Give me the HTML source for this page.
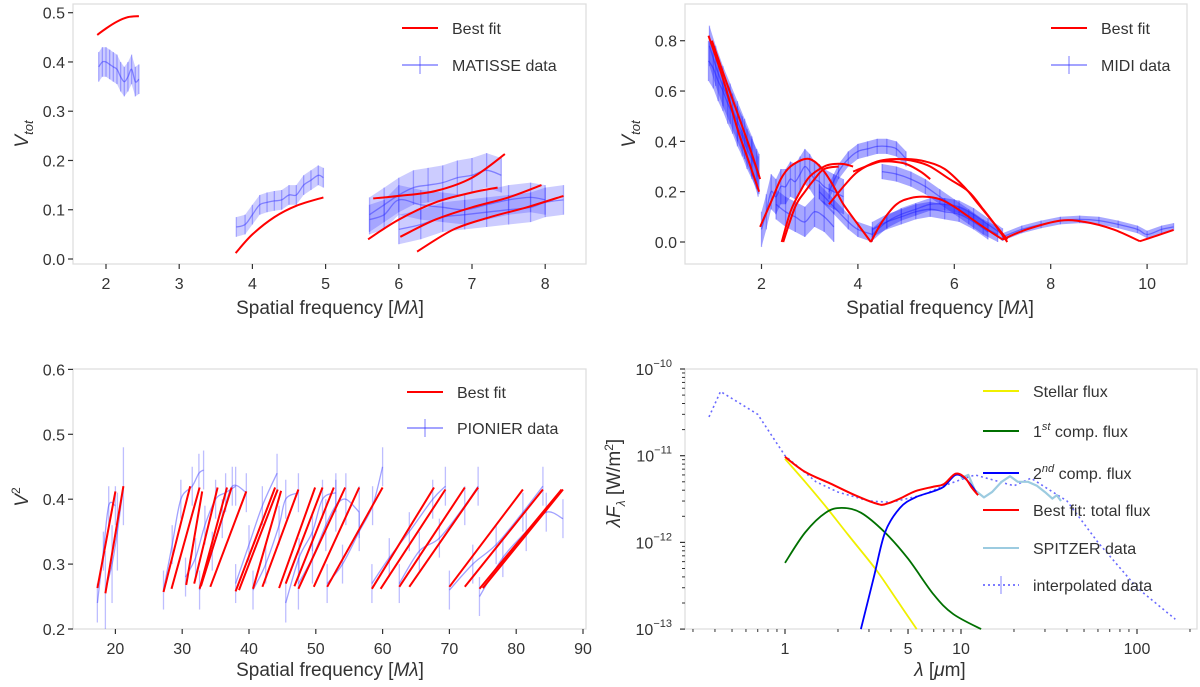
<!DOCTYPE html>
<html><head><meta charset="utf-8">
<style>
body{margin:0;background:#fff;}
svg{display:block;font-family:"Liberation Sans","DejaVu Sans",sans-serif;}
.tk{font-size:16px;fill:#333;}
.tt{font-size:19px;fill:#333;}
.lg{font-size:16px;fill:#333;}
</style></head>
<body>
<svg id="fig" width="1200" height="687" viewBox="0 0 1200 687"></svg>
<script>
// ---------- Panel 1: MATISSE ----------
const p1FitX = [[1.88,2.0,2.15,2.3,2.45],[3.77,4.0,4.3,4.6,4.97],[5.65,6.0,6.5,7.0,7.45],[5.58,6.0,6.5,7.0,7.35],[6.02,6.5,7.0,7.5,7.95],[6.25,6.75,7.25,7.75,8.25]];
const p1FitY = [[0.455,0.468,0.482,0.491,0.493],[0.012,0.05,0.085,0.108,0.125],[0.123,0.128,0.138,0.165,0.213],[0.04,0.08,0.115,0.135,0.145],[0.045,0.08,0.105,0.125,0.15],[0.015,0.06,0.085,0.105,0.128]];
const p1DatX = [[1.9,1.95,2.0,2.05,2.1,2.15,2.2,2.25,2.3,2.35,2.4,2.45],[3.78,3.9,4.0,4.1,4.2,4.3,4.4,4.5,4.6,4.7,4.8,4.9,4.97],[5.6,5.8,6.0,6.2,6.4,6.6,6.8,7.0,7.2,7.4],[5.6,5.8,6.0,6.3,6.6,6.9,7.2,7.5,7.8,8.0],[6.0,6.3,6.6,6.9,7.2,7.5,7.8,8.0,8.25]];
const p1DatY = [[0.39,0.40,0.40,0.395,0.39,0.385,0.37,0.36,0.37,0.385,0.36,0.365],[0.065,0.07,0.09,0.11,0.115,0.118,0.12,0.13,0.13,0.15,0.16,0.17,0.165],[0.09,0.11,0.13,0.145,0.15,0.155,0.165,0.17,0.18,0.17],[0.08,0.09,0.12,0.11,0.105,0.10,0.11,0.12,0.125,0.12],[0.06,0.07,0.085,0.09,0.095,0.10,0.105,0.115,0.12]];
const p1DatE = [0.03,0.02,0.035,0.03,0.03];
const p1XTicks = [2,3,4,5,6,7,8];
const p1YTicks = [0.0,0.1,0.2,0.3,0.4,0.5];

// ---------- Panel 2: MIDI ----------
const p2FitX = [[0.9,1.2,1.5,1.7,1.95],[0.97,1.3,1.6,1.8,1.97],[1.97,2.2,2.4,2.6,2.9,3.1,3.3,3.5,3.7,4.0,4.27],[4.27,4.5,4.8,5.1,5.4,5.7,6.0,6.3,6.6,7.0],[7.0,7.5,8.2,8.7,9.3,9.85],[9.85,10.2,10.55],[2.42,2.6,2.8,3.0,3.3,3.5,3.7,3.9],[2.45,2.7,2.9,3.1,3.3,3.6],[3.4,3.7,4.0,4.4,4.8,5.2,5.5,5.9,6.3,6.6,6.8,7.1],[3.9,4.3,4.6,5.0,5.4,5.8,6.2,6.5,6.8,7.1],[4.4,4.7,5.0,5.3,5.5]];
const p2FitY = [[0.82,0.65,0.45,0.34,0.2],[0.8,0.62,0.46,0.35,0.25],[0.06,0.16,0.25,0.30,0.33,0.32,0.28,0.22,0.15,0.07,0.0],[0.0,0.08,0.15,0.175,0.18,0.17,0.14,0.1,0.06,0.01],[0.01,0.05,0.085,0.08,0.05,0.003],[0.003,0.025,0.048],[0.0,0.12,0.2,0.26,0.3,0.31,0.31,0.3],[0.0,0.14,0.2,0.25,0.29,0.3],[0.15,0.22,0.28,0.32,0.33,0.32,0.3,0.25,0.2,0.13,0.08,0.0],[0.28,0.31,0.325,0.33,0.32,0.29,0.22,0.15,0.08,0.01],[0.32,0.32,0.31,0.28,0.25]];
const p2DatX = [[0.9,1.0,1.1,1.2,1.3,1.4,1.5,1.6,1.7,1.8,1.9,1.95],[0.92,1.05,1.2,1.35,1.5,1.65,1.8,1.93],[2.0,2.1,2.2,2.3,2.4,2.5,2.6,2.7,2.8,2.9,3.0,3.1,3.2,3.3,3.5,3.7],[3.4,3.6,3.8,4.0,4.2,4.4,4.6,4.8,5.0],[4.5,4.8,5.1,5.4,5.7,6.0,6.3,6.6,6.9],[4.3,4.6,4.9,5.2,5.5,5.8,6.1,6.4,6.7,7.0],[7.0,7.4,7.8,8.2,8.6,9.0,9.4,9.8,10.0,10.3,10.55],[3.2,3.5,3.8,4.0,4.3],[2.3,2.5,2.7,2.9,3.1,3.3,3.5],[4.3,4.6,4.9,5.2,5.5,5.8,6.1,6.4,6.7]];
const p2DatY = [[0.72,0.69,0.64,0.6,0.55,0.51,0.46,0.42,0.37,0.33,0.29,0.27],[0.78,0.7,0.62,0.55,0.48,0.41,0.34,0.26],[0.05,0.12,0.2,0.18,0.22,0.22,0.25,0.24,0.27,0.3,0.28,0.25,0.24,0.22,0.2,0.18],[0.2,0.28,0.33,0.36,0.37,0.38,0.38,0.37,0.33],[0.28,0.27,0.25,0.22,0.18,0.14,0.1,0.06,0.03],[0.03,0.08,0.11,0.13,0.15,0.15,0.14,0.11,0.07,0.03],[0.02,0.05,0.07,0.085,0.09,0.085,0.07,0.05,0.03,0.05,0.06],[0.2,0.14,0.08,0.05,0.03],[0.15,0.12,0.1,0.08,0.12,0.1,0.06],[0.05,0.08,0.1,0.12,0.13,0.12,0.11,0.08,0.04]];
const p2DatE = [0.08,0.08,0.07,0.03,0.03,0.025,0.015,0.03,0.06,0.03];
const p2XTicks = [2,4,6,8,10];
const p2YTicks = [0.0,0.2,0.4,0.6,0.8];

// ---------- Panel 3: PIONIER ----------
const p3FitX0 = [17.3,18.5,27.2,28.4,30.6,31.8,32.6,32.8,34.2,38.0,38.5,40.6,42.0,44.5,45.5,46.8,47.4,49.7,51.7,58.4,59.7,62.5,64.0,70.0,72.3,74.5,75.0];
const p3FitX1 = [20.0,21.2,31.2,32.6,33.0,35.3,36.7,37.4,39.6,43.9,44.3,44.8,47.4,49.9,51.0,52.7,54.4,56.5,60.0,67.7,69.4,72.3,74.3,81.0,84.0,86.8,87.0];
const p3FitY0 = [0.263,0.255,0.257,0.262,0.268,0.27,0.262,0.266,0.265,0.258,0.26,0.262,0.265,0.263,0.27,0.266,0.262,0.265,0.265,0.262,0.262,0.265,0.265,0.265,0.265,0.262,0.263];
const p3FitY1 = [0.412,0.42,0.42,0.418,0.412,0.418,0.418,0.418,0.412,0.418,0.415,0.413,0.415,0.418,0.418,0.418,0.418,0.418,0.418,0.418,0.415,0.418,0.418,0.415,0.415,0.415,0.415];
const p3DatX = [[17.3,18.2,19.0,20.0],[18.5,19.5,20.3,21.2],[27.2,28.5,29.8,31.5,32.5,33.2],[30.5,32.0,33.4,35.0,36.5,38.0],[32.6,34.5,36.0,37.5,39.6],[38.0,40.0,42.0,44.2],[40.6,42.5,44.5,45.5,47.4],[45.5,47.5,49.5,51.0,53.0],[47.4,49.5,51.5,53.0,54.5,56.5],[51.7,54.0,56.5,58.5,60.0],[58.4,61.0,64.0,67.5,69.4],[62.5,65.5,68.5,72.3,74.3],[70.0,73.5,77.0,81.0,84.0],[74.5,78.0,81.5,84.5,87.0]];
const p3DatY = [[0.24,0.32,0.39,0.39],[0.26,0.3,0.35,0.42],[0.26,0.33,0.4,0.42,0.44,0.445],[0.28,0.31,0.36,0.4,0.41,0.42],[0.26,0.32,0.37,0.42,0.41],[0.27,0.33,0.39,0.44],[0.26,0.3,0.36,0.4,0.41],[0.24,0.31,0.35,0.4,0.41],[0.27,0.31,0.36,0.39,0.4,0.38],[0.27,0.3,0.35,0.39,0.45],[0.27,0.31,0.35,0.4,0.42],[0.27,0.32,0.34,0.39,0.42],[0.26,0.3,0.33,0.38,0.42],[0.25,0.31,0.35,0.38,0.37]];
const p3DatE = [0.03,0.06,0.03,0.03,0.03,0.03,0.03,0.03,0.04,0.03,0.03,0.03,0.03,0.03];
const p3XTicks = [20,30,40,50,60,70,80,90];
const p3YTicks = [0.2,0.3,0.4,0.5,0.6];

// ---------- Panel 4: SED ----------
const sedStellarX = [1,1.3,1.73,2.3,3.3,4.3,5.6];
const sedStellarY = [9.2e-12,5e-12,2.5e-12,1.2e-12,4.8e-13,2.2e-13,1e-13];
const sedComp1X = [1,1.3,1.7,2.1,2.7,3.7,5,7,9,13];
const sedComp1Y = [5.8e-13,1.3e-12,2.2e-12,2.5e-12,2.2e-12,1.3e-12,6.5e-13,2.5e-13,1.5e-13,1e-13];
const sedComp2X = [2.7,3.2,3.7,4.5,5.5,7,8,9.3,10.5,11.5,12.2];
const sedComp2Y = [1e-13,4e-13,1.3e-12,2.5e-12,3.3e-12,3.9e-12,4.4e-12,6e-12,5.5e-12,4.5e-12,3.8e-12];
const sedTotalX = [1,1.3,1.8,2.5,3.3,3.7,4.5,5.5,7,8,9.3,10.5,11.5,12.5];
const sedTotalY = [9.7e-12,6.5e-12,4.8e-12,3.5e-12,2.8e-12,2.75e-12,3.2e-12,3.9e-12,4.4e-12,4.7e-12,6.2e-12,5.6e-12,4.3e-12,3.5e-12];
const sedSpitzerX = [10,11,12,13.5,15,17,19,21,24,27,30,33,35,37];
const sedSpitzerY = [5.5e-12,6e-12,4e-12,3.3e-12,3.8e-12,5e-12,5.8e-12,5e-12,5e-12,4.5e-12,3.8e-12,3.2e-12,3.5e-12,3e-12];
const sedInterpX = [0.37,0.43,0.7,1,1.5,2,3,4,6,8,10,12,20,25,40,60,100,165];
const sedInterpY = [2.8e-11,5.5e-11,3e-11,1e-11,5e-12,3.8e-12,3e-12,2.9e-12,3.5e-12,4.5e-12,5.3e-12,6e-12,4.5e-12,5.5e-12,3e-12,1e-12,3e-13,1.3e-13];
const p4XTicks = [1,5,10,100];
const p4YTicks = [-10,-11,-12,-13];

// ---------- drawing helpers ----------
const NS = "http://www.w3.org/2000/svg";
const fig = document.getElementById('fig');
function mk(tag, attrs, parent){
  const e = document.createElementNS(NS, tag);
  for (const k in attrs) e.setAttribute(k, attrs[k]);
  (parent||fig).appendChild(e);
  return e;
}
function group(name){
  const g = mk('g', {});
  
  
  return g;
}
function smoothD(P){
  if (P.length<3) return 'M'+P.map(p=>p[0].toFixed(1)+','+p[1].toFixed(1)).join(' L');
  let d='M'+P[0][0].toFixed(1)+','+P[0][1].toFixed(1);
  for (let i=0;i<P.length-1;i++){
    const p0=P[Math.max(0,i-1)],p1=P[i],p2=P[i+1],p3=P[Math.min(P.length-1,i+2)];
    const c1=[p1[0]+(p2[0]-p0[0])/6,p1[1]+(p2[1]-p0[1])/6];
    const c2=[p2[0]-(p3[0]-p1[0])/6,p2[1]-(p3[1]-p1[1])/6];
    d+=' C'+c1[0].toFixed(1)+','+c1[1].toFixed(1)+' '+c2[0].toFixed(1)+','+c2[1].toFixed(1)+' '+p2[0].toFixed(1)+','+p2[1].toFixed(1);
  }
  return d;
}
function curve(g, xs, ys, sx, sy, color, w, op, dash, smooth){
  const P = xs.map((x,i)=>[sx(x),sy(ys[i])]);
  const d = smooth ? smoothD(P) : 'M'+P.map(p=>p[0].toFixed(1)+','+p[1].toFixed(1)).join(' L');
  const p = mk('path', {d:d, fill:'none', stroke:color, 'stroke-width':w, 'stroke-opacity':op, 'stroke-linejoin':'round'}, g);
  if (dash) p.setAttribute('stroke-dasharray', dash);
  return p;
}
function frame(name, x0,y0,x1,y1){
  const r = mk('rect', {x:x0,y:y0,width:x1-x0,height:y1-y0,fill:'none',stroke:'#dcdcdc','stroke-width':1.2});
  
  
}
function xticks(name, ticks, sx, yb, fmt){
  const g = group(name);
  ticks.forEach(t=>{
    const x = sx(t);
    mk('line',{x1:x,x2:x,y1:yb,y2:yb+5,stroke:'#333','stroke-width':1.2},g);
    const tx = mk('text',{x:x,y:yb+25,'text-anchor':'middle',class:'tk'},g);
    tx.textContent = fmt(t);
  });
}
function yticks(name, ticks, sy, xl, fmt){
  const g = group(name);
  ticks.forEach(t=>{
    const y = sy(t);
    mk('line',{x1:xl-5,x2:xl,y1:y,y2:y,stroke:'#333','stroke-width':1.2},g);
    const tx = mk('text',{x:xl-8,y:y+6,'text-anchor':'end',class:'tk'},g);
    tx.textContent = fmt(t);
  });
}
function errData(g, xs, ys, e, sx, sy, color, band){
  if (band){
    const up = xs.map((x,i)=>sx(x).toFixed(1)+','+sy(ys[i]+e).toFixed(1));
    const dn = xs.map((x,i)=>sx(x).toFixed(1)+','+sy(ys[i]-e).toFixed(1)).reverse();
    mk('polygon',{points:up.concat(dn).join(' '),fill:color,'fill-opacity':band,stroke:'none'},g);
  }
  curve(g, xs, ys, sx, sy, color, 1.3, 0.5, null, true);
  xs.forEach((x,i)=>{
    mk('line',{x1:sx(x),x2:sx(x),y1:sy(ys[i]-e),y2:sy(ys[i]+e),stroke:color,'stroke-width':1.3,'stroke-opacity':0.35},g);
  });
}
function legend(name, x, y, label, color, kind){
  const g = group(name);
  const l = mk('line',{x1:x,x2:x+36,y1:y,y2:y,stroke:color,'stroke-width':2,'stroke-opacity':kind==='err'?0.45:1},g);
  if (kind==='dot') { l.setAttribute('stroke-dasharray','2,3'); l.setAttribute('stroke-opacity',0.7); }
  if (kind==='err'||kind==='dot') mk('line',{x1:x+18,x2:x+18,y1:y-9,y2:y+9,stroke:color,'stroke-width':1.3,'stroke-opacity':0.5},g);
  const t = mk('text',{x:x+50,y:y+6,class:'lg'},g);
  t.innerHTML = label;
}
function title(name, x, y, html, rot){
  const t = mk('text',{x:x,y:y,'text-anchor':'middle',class:'tt'});
  if (rot) t.setAttribute('transform','rotate(-90 '+x+' '+y+')');
  t.innerHTML = html;
  
  
}
const f1 = t=>t.toFixed(1);
const f0 = t=>String(t);

// ---------- Panel 1 ----------
{
  const sx = x=>106+(x-2)*73.2, sy = y=>259-y*492.6;
  frame('matisse-plot-frame',73,4,586,264);
  const gd = group('matisse-data');
  p1DatX.forEach((xs,i)=>errData(gd,xs,p1DatY[i],p1DatE[i],sx,sy,'#3333ff',0.25));
  const gf = group('matisse-best-fit');
  p1FitX.forEach((xs,i)=>curve(gf,xs,p1FitY[i],sx,sy,'#ff0000',2,1,null,true));
  xticks('matisse-x-ticks',p1XTicks,sx,264,f0);
  yticks('matisse-y-ticks',p1YTicks,sy,73,f1);
  title('matisse-x-axis-title',330,314,'Spatial frequency [<tspan font-style="italic">Mλ</tspan>]');
  title('matisse-y-axis-title',28,134,'<tspan font-style="italic">V</tspan><tspan font-style="italic" font-size="13" dy="5">tot</tspan>',true);
  legend('legend-best-fit-1',402,28,'Best fit','#ff0000','line');
  legend('legend-matisse-data',402,65,'MATISSE data','#3333ff','err');
}
// ---------- Panel 2 ----------
{
  const sx = x=>761.5+(x-2)*48.2, sy = y=>242-y*251.6;
  frame('midi-plot-frame',685,4,1187,264);
  const gd = group('midi-data');
  p2DatX.forEach((xs,i)=>errData(gd,xs,p2DatY[i],p2DatE[i],sx,sy,'#2222ff',0.4));
  const gf = group('midi-best-fit');
  p2FitX.forEach((xs,i)=>curve(gf,xs,p2FitY[i],sx,sy,'#ff0000',2,1,null,true));
  xticks('midi-x-ticks',p2XTicks,sx,264,f0);
  yticks('midi-y-ticks',p2YTicks,sy,685,f1);
  title('midi-x-axis-title',940,314,'Spatial frequency [<tspan font-style="italic">Mλ</tspan>]');
  title('midi-y-axis-title',635,134,'<tspan font-style="italic">V</tspan><tspan font-style="italic" font-size="13" dy="5">tot</tspan>',true);
  legend('legend-best-fit-2',1051,28,'Best fit','#ff0000','line');
  legend('legend-midi-data',1051,65,'MIDI data','#3333ff','err');
}
// ---------- Panel 3 ----------
{
  const sx = x=>115.4+(x-20)*6.68, sy = y=>629-(y-0.2)*649;
  frame('pionier-plot-frame',73,369,586,629);
  const gd = group('pionier-data');
  p3DatX.forEach((xs,i)=>errData(gd,xs,p3DatY[i],p3DatE[i],sx,sy,'#4444ff',0));
  const gf = group('pionier-best-fit');
  p3FitX0.forEach((x0,i)=>curve(gf,[x0,p3FitX1[i]],[p3FitY0[i],p3FitY1[i]],sx,sy,'#ff0000',2,1));
  xticks('pionier-x-ticks',p3XTicks,sx,629,f0);
  yticks('pionier-y-ticks',p3YTicks,sy,73,f1);
  title('pionier-x-axis-title',330,676,'Spatial frequency [<tspan font-style="italic">Mλ</tspan>]');
  title('pionier-y-axis-title',28,497,'<tspan font-style="italic">V</tspan><tspan font-size="12" dy="-8">2</tspan>',true);
  legend('legend-best-fit-3',407,392,'Best fit','#ff0000','line');
  legend('legend-pionier-data',407,428,'PIONIER data','#3333ff','err');
}
// ---------- Panel 4 ----------
{
  const sx = x=>785+Math.log10(x)*176, sy = y=>369+(-10-Math.log10(y))*86.7;
  frame('sed-plot-frame',685,369,1197,629);
  const gm = group('sed-minor-ticks');
  for (let d=-1; d<=2; d++) for (let m=2;m<10;m++){
    const x=sx(m*Math.pow(10,d));
    if (x<686||x>1196) continue;
    mk('line',{x1:x,x2:x,y1:629,y2:632,stroke:'#333','stroke-width':1},gm);
  }
  for (let d=-13; d<-10; d++) for (let m=2;m<10;m++){
    const y=sy(m*Math.pow(10,d));
    mk('line',{x1:682,x2:685,y1:y,y2:y,stroke:'#333','stroke-width':1},gm);
  }
  const gs = group('sed-curves');
  curve(gs,sedInterpX,sedInterpY,sx,sy,'#4444ff',1.6,0.8,'2,3');
  curve(gs,sedSpitzerX,sedSpitzerY,sx,sy,'#9ccbe0',2.2,1);
  curve(gs,sedStellarX,sedStellarY,sx,sy,'#f0f000',1.8,1,null,true);
  curve(gs,sedComp1X,sedComp1Y,sx,sy,'#007000',1.8,1,null,true);
  curve(gs,sedComp2X,sedComp2Y,sx,sy,'#0000ff',1.8,1,null,true);
  curve(gs,sedTotalX,sedTotalY,sx,sy,'#ff0000',2,1,null,true);
  xticks('sed-x-ticks',p4XTicks,sx,629,f0);
  const gy = group('sed-y-ticks');
  p4YTicks.forEach(e=>{
    const y=sy(Math.pow(10,e));
    mk('line',{x1:680,x2:685,y1:y,y2:y,stroke:'#333','stroke-width':1.2},gy);
    const t=mk('text',{x:672,y:y+6,'text-anchor':'end',class:'tk'},gy);
    t.innerHTML='10<tspan font-size="11" dy="-8">−'+(-e)+'</tspan>';
  });
  title('sed-x-axis-title',940,676,'<tspan font-style="italic">λ</tspan> [<tspan font-style="italic">μ</tspan>m]');
  title('sed-y-axis-title',620,483,'<tspan font-style="italic">λF</tspan><tspan font-style="italic" font-size="12" dy="5">λ</tspan><tspan dy="-5"> [W/m</tspan><tspan font-size="12" dy="-7">2</tspan><tspan dy="7">]</tspan>',true);
  legend('legend-stellar-flux',983,391,'Stellar flux','#f0f000','line');
  legend('legend-first-comp-flux',983,431,'1<tspan font-size="11" dy="-7" font-style="italic">st</tspan><tspan dy="7"> comp. flux</tspan>','#007000','line');
  legend('legend-second-comp-flux',983,473,'2<tspan font-size="11" dy="-7" font-style="italic">nd</tspan><tspan dy="7"> comp. flux</tspan>','#0000ff','line');
  legend('legend-total-flux',983,510,'Best fit: total flux','#ff0000','line');
  legend('legend-spitzer-data',983,548,'SPITZER data','#9ccbe0','line');
  legend('legend-interpolated-data',983,585,'interpolated data','#4444ff','dot');
}
</script>
</body></html>
